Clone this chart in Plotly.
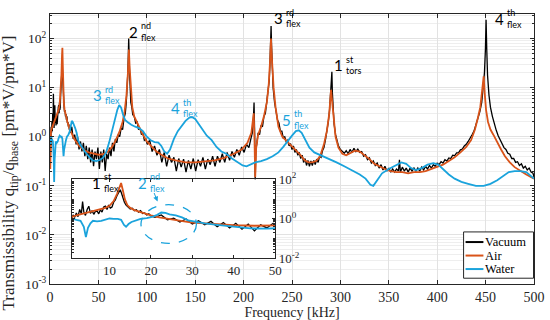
import plotly.graph_objects as go

# ---------------- data ----------------
VACUUM = [
    (0.3, 0.3), (0.8, 0.9), (1.2, 1.6), (1.6, 1.2), (2.0, 2.0), (2.4, 1.3), (2.8, 3.0), (3.2, 1.8), (3.5, 7.5), (3.8, 2.2),
    (4.2, 1.5), (4.6, 3.0), (5.0, 4.4), (5.4, 1.9), (5.8, 2.6), (6.2, 1.7), (6.6, 2.4), (7.0, 2.5), (7.4, 1.8), (7.8, 2.9),
    (8.2, 2.2), (8.6, 4.0), (9.0, 4.4), (9.4, 3.0), (9.8, 5.0), (10.2, 3.5), (10.6, 4.0), (11.0, 7.0), (11.4, 9.0), (11.8, 15),
    (12.2, 22), (12.6, 30), (12.9, 20), (13.2, 12), (13.6, 7.0), (14.0, 5.0), (14.5, 4.2), (15.0, 3.2), (15.5, 3.5), (16.0, 2.6),
    (16.5, 2.9), (17.0, 2.2), (17.5, 2.6), (18.0, 1.9), (18.5, 2.0), (19.0, 1.6), (19.5, 1.8), (20.0, 1.4),
    (21, 1.2), (22.5, 1.6), (24, 0.9), (25.5, 1.1), (27, 0.7), (28.5, 1.0), (30, 0.55), (31.5, 0.8), (33, 0.5), (34.5, 0.75),
    (36, 0.4), (37.5, 0.65), (39, 0.35), (40.5, 0.6), (42, 0.3), (43.5, 0.55), (45, 0.25), (46.5, 0.5), (48, 0.35), (49.5, 0.6),
    (51, 0.22), (52.5, 0.5), (54, 0.3), (55.5, 0.55), (57, 0.2), (58.5, 0.45), (60, 0.35), (61.5, 0.6), (63, 0.4), (64.5, 0.75),
    (66, 0.5), (67.5, 0.9),
    (69, 0.75), (70.5, 1.1), (72, 1.0), (73.5, 1.5), (75, 1.4), (76.5, 2.4), (77.8, 3.0), (78.8, 5), (79.7, 9), (80.4, 20),
    (80.9, 45), (81.3, 100), (81.7, 50), (82.2, 20), (82.8, 9), (83.5, 5), (84.5, 4.0), (85.5, 2.8), (87, 2.6), (88.5, 1.9),
    (90, 2.0), (91.5, 1.4), (93, 1.5), (94.5, 1.1), (96, 1.2), (97.5, 0.85), (99, 0.9),
    (100.5, 0.7), (103, 0.85), (105.5, 0.5), (108, 0.65), (110.5, 0.42), (113, 0.55), (115.5, 0.3), (118, 0.48), (120.5, 0.25), (123, 0.42),
    (125.5, 0.3), (128, 0.38), (130.5, 0.2), (133, 0.36), (135.5, 0.24), (138, 0.35), (140.5, 0.19), (143, 0.33), (145.5, 0.22), (148, 0.36),
    (150.5, 0.2), (153, 0.34), (155.5, 0.25), (158, 0.38), (160.5, 0.22), (163, 0.35), (165.5, 0.27), (168, 0.4), (170.5, 0.25), (173, 0.4),
    (175.5, 0.3), (178, 0.45), (180.5, 0.3), (183, 0.48), (185.5, 0.33), (188, 0.5), (190.5, 0.38), (193, 0.55), (195.5, 0.42), (198, 0.62),
    (200.5, 0.48), (203, 0.7), (205.5, 0.6), (207.5, 0.9), (209, 1.2), (210.2, 2.5), (210.8, 5), (211.4, 1.2), (212, 0.12), (212.6, 0.5),
    (213.5, 0.8), (215, 1.2), (216.5, 1.1), (218, 1.7), (219.5, 1.6), (221, 2.6), (222.5, 3.0), (224, 5), (225.5, 8), (226.5, 14),
    (227.3, 35), (227.9, 100), (228.4, 180), (228.9, 70), (229.6, 25), (230.5, 10), (232, 5), (233.5, 3.5), (235, 2.2), (236.5, 1.9),
    (238, 1.3), (239.5, 1.3), (241, 0.95), (242.5, 1.0), (244, 0.8), (245.5, 0.85), (247, 0.65), (248.5, 0.72), (250, 0.55), (251.5, 0.65),
    (253, 0.48), (254.5, 0.55), (256, 0.42), (257.5, 0.48), (259, 0.36), (260.5, 0.42), (262, 0.3), (263.5, 0.36), (265, 0.26), (266.5, 0.33),
    (268, 0.25), (269.5, 0.32), (271, 0.26), (272.5, 0.33), (274, 0.27), (275.5, 0.35), (277, 0.3), (278.5, 0.4), (280, 0.38), (281.5, 0.52),
    (283, 0.6), (284.5, 0.85), (286, 1.2), (287.5, 2.0), (288.8, 3.5), (289.8, 7), (290.6, 12), (291.2, 21), (291.7, 8), (292.4, 3.5),
    (293.5, 1.8), (295, 1.1), (296.5, 0.85), (298, 0.65),
    (300, 0.55), (302, 0.5), (304, 0.46), (306, 0.52), (308, 0.45), (310, 0.55), (312, 0.48), (314, 0.58), (316, 0.5), (318, 0.56),
    (320, 0.48), (322, 0.5), (324, 0.4), (326, 0.43), (328, 0.34), (330, 0.37), (332, 0.29), (334, 0.32), (336, 0.26), (338, 0.29),
    (340, 0.23), (342, 0.27), (344, 0.21), (346, 0.25), (348, 0.2), (350, 0.23), (352, 0.19), (354, 0.22), (356, 0.19), (358, 0.22),
    (360, 0.2), (361, 0.34), (362, 0.19), (364, 0.24), (366, 0.2), (368, 0.23), (370, 0.19), (372, 0.23), (374, 0.2), (376, 0.23),
    (378, 0.2), (380, 0.23), (382, 0.2), (384, 0.24), (386, 0.21), (388, 0.25), (390, 0.22), (392, 0.26), (394, 0.23), (396, 0.27),
    (398, 0.25), (400, 0.29), (402, 0.27), (404, 0.31), (406, 0.29), (408, 0.34), (410, 0.32), (412, 0.37), (414, 0.36), (416, 0.42),
    (418, 0.41), (420, 0.47), (422, 0.47), (424, 0.54), (426, 0.56), (428, 0.65), (430, 0.7), (432, 0.8), (434, 0.92), (436, 1.1),
    (438, 1.3), (440, 1.7), (442, 2.2), (444, 3.2), (446, 5), (447.5, 9), (448.8, 20), (449.8, 60), (450.5, 240), (451.2, 60),
    (452, 18), (453.5, 7), (455, 4), (457, 2.6), (459, 1.8), (461, 1.35), (463, 1.05), (465, 0.85), (467, 0.75), (469, 0.6),
    (471, 0.55), (473, 0.46), (475, 0.44), (477, 0.36), (479, 0.36), (481, 0.3), (483, 0.31), (485, 0.26), (487, 0.28), (489, 0.23),
    (491, 0.25), (493, 0.21), (495, 0.23), (497, 0.19), (499, 0.18), (500, 0.15),
]

AIR = [
    (0.3, 0.22), (1.0, 1.3), (2, 1.5), (3, 1.7), (4, 1.9), (5, 2.1), (6, 2.4), (7, 2.7), (8, 3.1), (9, 3.6),
    (10, 4.6), (11, 8), (11.8, 18), (12.4, 45), (12.8, 65), (13.2, 30), (13.7, 10), (14.3, 5), (15, 3.6), (16, 2.8),
    (17, 2.4), (18, 2.0), (20, 1.5), (22, 1.2), (24, 1.0), (26, 0.85), (28, 0.75), (30, 0.65), (33, 0.58), (36, 0.52),
    (40, 0.48), (45, 0.45), (50, 0.43), (55, 0.44), (60, 0.5), (64, 0.62), (68, 0.85), (72, 1.3), (75, 2.0), (77, 3.2),
    (79, 7), (80.5, 20), (81.5, 60), (82.3, 25), (83.5, 8), (85, 4), (87, 2.6), (90, 1.9), (95, 1.2), (100, 0.8),
    (105, 0.62), (110, 0.5), (116, 0.42), (122, 0.36), (130, 0.33), (140, 0.3), (150, 0.3), (160, 0.31), (170, 0.33), (180, 0.37),
    (190, 0.45), (198, 0.55), (204, 0.75), (208, 1.2), (210.5, 3.0), (211.3, 0.8), (212, 0.15), (213, 0.6), (215, 1.1), (218, 1.6),
    (221, 2.6), (224, 5), (226, 12), (227.5, 40), (228.3, 100), (229.2, 40), (231, 10), (233, 4), (236, 1.6), (240, 1.0),
    (245, 0.8), (250, 0.65), (255, 0.52), (259, 0.42), (263, 0.33), (267, 0.3), (271, 0.3), (275, 0.32), (279, 0.4), (283, 0.7),
    (286, 1.3), (288.5, 3), (290.3, 9), (291.5, 5), (293, 2), (295, 1.0), (298, 0.6), (302, 0.45), (306, 0.42), (310, 0.46),
    (315, 0.52), (320, 0.5), (325, 0.42), (330, 0.35), (335, 0.28), (340, 0.25), (346, 0.22), (352, 0.2), (358, 0.19), (364, 0.19),
    (370, 0.18), (376, 0.19), (382, 0.19), (388, 0.2), (394, 0.22), (400, 0.24), (406, 0.27), (412, 0.32), (418, 0.38), (424, 0.48),
    (430, 0.62), (435, 0.85), (439, 1.4), (442, 2.4), (444.5, 4), (446.5, 9), (448, 17), (449, 8), (450.5, 3.5), (452.5, 2),
    (455, 1.4), (458, 1.1), (462, 0.75), (466, 0.55), (470, 0.4), (475, 0.3), (480, 0.24), (486, 0.2), (492, 0.17), (500, 0.14),
]

WATER = [
    (0.5, 0.7), (1.2, 1.0), (2, 0.9), (3, 0.8), (3.8, 0.4), (4.3, 0.12), (4.8, 0.35), (5.4, 0.6), (6, 0.8), (7, 0.75),
    (8, 0.8), (9, 0.95), (10, 1.05), (11, 1.0), (12, 1.0), (12.8, 0.9), (13.5, 0.5), (14, 0.4), (14.6, 0.55), (15.3, 0.7),
    (16.5, 0.85), (17.5, 1.0), (19, 1.1), (20.5, 1.3), (21.5, 1.6), (22.5, 2.1), (23.5, 2.0), (24.5, 1.7), (26, 1.5), (27.5, 1.2),
    (29, 0.85), (31, 0.7), (33, 0.6), (36, 0.5), (40, 0.4), (44, 0.33), (48, 0.32), (52, 0.34), (55, 0.38), (58, 0.48),
    (61, 0.75), (64, 1.3), (67, 2.3), (69.5, 3.5), (71.5, 4.4), (73.5, 3.9), (75.5, 2.8), (77.5, 2.2), (80, 2.0), (84, 1.75),
    (88, 1.6), (92, 1.5), (96, 1.3), (100, 1.0), (104, 0.85), (108, 0.78), (112, 0.76), (115, 0.65), (118, 0.5), (121, 0.45),
    (124, 0.55), (128, 0.9), (132, 1.3), (136, 1.7), (140, 2.1), (144, 2.45), (147, 2.5), (150, 2.3), (154, 1.8), (158, 1.35),
    (162, 1.05), (167, 0.85), (172, 0.62), (177, 0.5), (182, 0.45), (188, 0.36), (194, 0.3), (199, 0.26), (203, 0.25), (207, 0.27),
    (212, 0.3), (218, 0.32), (224, 0.35), (230, 0.4), (236, 0.48), (241, 0.62), (246, 0.85), (250, 1.05), (254, 1.3), (257, 1.35),
    (260, 1.2), (264, 0.85), (268, 0.6), (273, 0.48), (280, 0.42), (288, 0.36), (296, 0.3), (304, 0.25), (312, 0.21), (320, 0.17),
    (326, 0.14), (331, 0.105), (334, 0.1), (338, 0.13), (343, 0.18), (350, 0.22), (357, 0.26), (363, 0.3), (368, 0.28), (373, 0.23),
    (378, 0.21), (384, 0.23), (390, 0.27), (396, 0.29), (401, 0.27), (406, 0.22), (412, 0.17), (418, 0.14), (425, 0.12), (432, 0.11),
    (440, 0.1), (448, 0.1), (455, 0.11), (462, 0.13), (468, 0.16), (474, 0.19), (480, 0.2), (486, 0.2), (492, 0.19), (497, 0.16),
    (500, 0.14),
]

SERIES_NAMES = ["Vacuum", "Air", "Water"]
X_TICKS = [0, 50, 100, 150, 200, 250, 300, 350, 400, 450, 500]
Y_TICK_VALS = [1e-3, 1e-2, 1e-1, 1, 10, 100]
Y_TICK_TEXT = ["10<sup>-3</sup>", "10<sup>-2</sup>", "10<sup>-1</sup>", "10<sup>0</sup>", "10<sup>1</sup>", "10<sup>2</sup>"]
INSET_X_TICKS = [10, 20, 30, 40, 50]
INSET_Y_VALS = [1e-2, 1, 1e2]
INSET_Y_TEXT = ["10<sup>-2</sup>", "10<sup>0</sup>", "10<sup>2</sup>"]

# ---------------- styling ----------------
SERIF = "Liberation Serif"
SANS = "Lato"
BLACK = "#000000"
ORANGE = "#D95319"
BLUE = "#1AA3DC"
AXCOL = "#262626"
GRID = "#e2e2e2"
MINORGRID = "#eeeeee"

W, H = 550, 320
ML, MR, MT, MB = 50, 12, 5, 35
PW, PH = W - ML - MR, H - MT - MB


def px_x(px):
    return (px - ML) / PW


def px_y(py):
    return (H - MB - py) / PH


series = [
    (SERIES_NAMES[0], VACUUM, BLACK, 1.3),
    (SERIES_NAMES[1], AIR, ORANGE, 1.8),
    (SERIES_NAMES[2], WATER, BLUE, 1.8),
]

fig = go.Figure()
for name, pts, col, w in series:
    fig.add_trace(go.Scatter(x=[p[0] for p in pts], y=[p[1] for p in pts], mode="lines", name=name,
                             showlegend=False, line=dict(color=col, width=w), xaxis="x", yaxis="y"))
for name, pts, col, w in series:
    fig.add_trace(go.Scatter(x=[p[0] for p in pts], y=[p[1] for p in pts], mode="lines", name=name,
                             showlegend=False, line=dict(color=col, width=w), xaxis="x2", yaxis="y2"))


def mode_label(big, sup, sub, x, y, color, xref="x", yref="y"):
    fig.add_annotation(x=x, y=y, xref=xref, yref=yref, text=big, showarrow=False,
                       xanchor="right", yanchor="middle", borderpad=0,
                       font=dict(family=SANS, size=15, color=color))
    fig.add_annotation(x=x, y=y, xref=xref, yref=yref, text=sup, showarrow=False,
                       xanchor="left", yanchor="middle", xshift=1, yshift=6, borderpad=0,
                       font=dict(family=SANS, size=9, color=color))
    fig.add_annotation(x=x, y=y, xref=xref, yref=yref, text=sub, showarrow=False,
                       xanchor="left", yanchor="middle", xshift=1, yshift=-5.5, borderpad=0,
                       font=dict(family=SANS, size=9, color=color))


mode_label("2", "nd", "flex", 91.7, 2.14, BLACK)
mode_label("3", "rd", "flex", 241.5, 2.41, BLACK)
mode_label("1", "st", "tors", 304, 1.46, BLACK)
mode_label("4", "th", "flex", 469.6, 2.40, BLACK)
mode_label("3", "rd", "flex", 54.6, 0.84, BLUE)
mode_label("4", "th", "flex", 135.6, 0.585, BLUE)
mode_label("5", "th", "flex", 250, 0.35, BLUE)
mode_label("1", "st", "flex", 8.1, 1.84, BLACK, "x2", "y2")
mode_label("2", "nd", "flex", 19.2, 1.83, BLUE, "x2", "y2")

# arrow in inset
fig.add_annotation(x=21.6, y=0.88, xref="x2", yref="y2", text="", showarrow=True,
                   ax=-4, ay=-10, arrowhead=2, arrowsize=1, arrowwidth=1, arrowcolor=BLUE)
# dashed ellipse in inset (shape coordinates are data values on the log axis)
fig.add_shape(type="circle", xref="x2", yref="y2", x0=17.6, x1=31.0, y0=0.0575, y1=5.25,
              line=dict(color=BLUE, width=1.3, dash="dash"))

# y-axis title
fig.add_annotation(xref="paper", yref="paper", x=px_x(10), y=px_y(170), showarrow=False,
                   text="Transmissibility q<sub>tip</sub>/q<sub>base</sub> [pm*V/pm*V]",
                   textangle=-90, xanchor="center", yanchor="middle",
                   font=dict(family=SERIF, size=17, color=AXCOL))

# compact legend (box, line keys, labels)
fig.add_shape(type="rect", xref="paper", yref="paper", x0=px_x(467), x1=px_x(537.5),
              y0=px_y(279), y1=px_y(231), fillcolor="white", line=dict(color=AXCOL, width=1), layer="above")
for i, (name, pts, col, w) in enumerate(series):
    yy = px_y(241.5 + 14 * i)
    fig.add_shape(type="line", xref="paper", yref="paper", x0=px_x(469), x1=px_x(487),
                  y0=yy, y1=yy, line=dict(color=col, width=2), layer="above")
    fig.add_annotation(xref="paper", yref="paper", x=px_x(488), y=yy, text=name, showarrow=False,
                       xanchor="left", yanchor="middle", borderpad=0,
                       font=dict(family=SERIF, size=12.5, color="black"))

fig.update_layout(
    width=W, height=H,
    margin=dict(l=ML, r=MR, t=MT, b=MB),
    paper_bgcolor="white", plot_bgcolor="white",
    font=dict(family=SERIF, size=13, color=AXCOL),
    showlegend=False,
    xaxis=dict(domain=[0, 1], range=[0, 500], tickmode="array", tickvals=X_TICKS,
               ticks="inside", ticklen=4, tickcolor=AXCOL, showline=True, mirror="ticks",
               linecolor=AXCOL, linewidth=1, showgrid=True, gridcolor=GRID, zeroline=False,
               tickfont=dict(size=14),
               title=dict(text="Frequency [kHz]", standoff=0, font=dict(size=14))),
    yaxis=dict(type="log", range=[-3, 2.5], tickmode="array", tickvals=Y_TICK_VALS, ticktext=Y_TICK_TEXT,
               ticks="inside", ticklen=4, tickcolor=AXCOL, showline=True, mirror="ticks",
               linecolor=AXCOL, linewidth=1, showgrid=True, gridcolor=GRID, zeroline=False,
               tickfont=dict(size=13.5),
               minor=dict(dtick="D1", showgrid=True, gridcolor=MINORGRID, ticks="inside",
                          ticklen=2, tickcolor=AXCOL)),
    xaxis2=dict(domain=[px_x(72), px_x(277)], anchor="y2", range=[0.9, 50], tickmode="array",
                tickvals=INSET_X_TICKS, ticks="inside", ticklen=3, tickcolor=AXCOL,
                showline=True, mirror="ticks", linecolor=AXCOL, linewidth=1,
                showgrid=False, zeroline=False, tickfont=dict(size=13)),
    yaxis2=dict(domain=[px_y(258.5), px_y(176.5)], anchor="x2", side="right", type="log", range=[-2, 2],
                tickmode="array", tickvals=INSET_Y_VALS, ticktext=INSET_Y_TEXT,
                ticks="inside", ticklen=3, tickcolor=AXCOL, showline=True, mirror="ticks",
                linecolor=AXCOL, linewidth=1, showgrid=False, zeroline=False,
                tickfont=dict(size=13),
                minor=dict(dtick="D1", ticks="inside", ticklen=2, tickcolor=AXCOL)),
)

fig.write_html("out.html", config={"displayModeBar": False},
               post_script="document.body.style.margin='0px';")
